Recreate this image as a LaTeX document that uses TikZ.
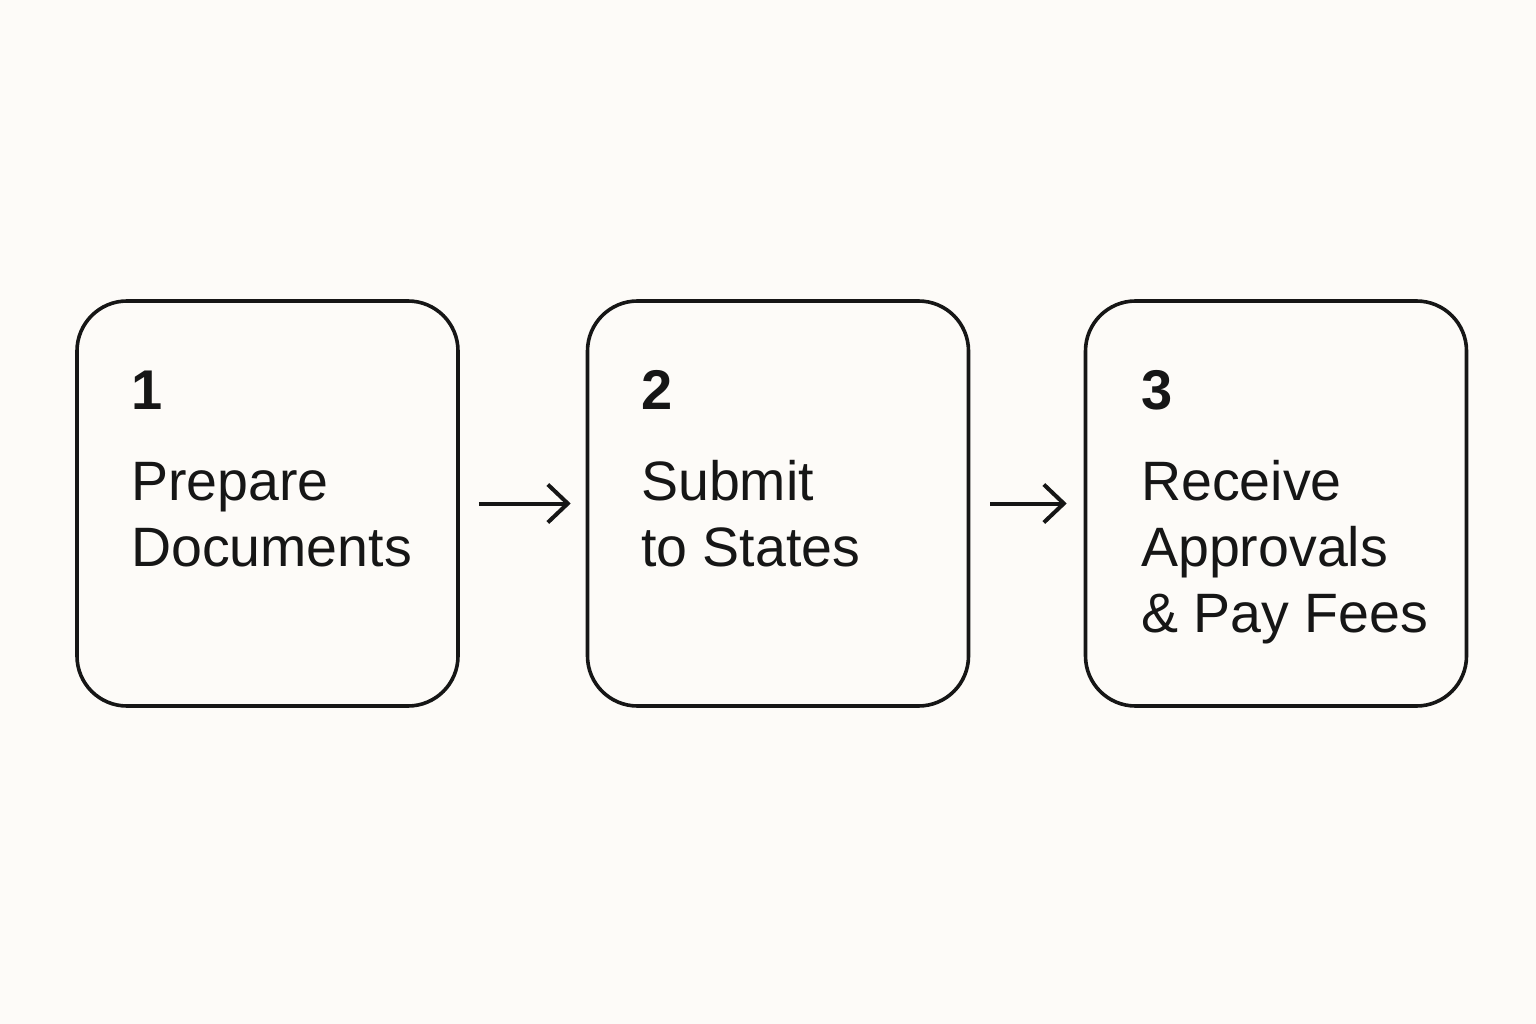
\documentclass[tikz,border=0pt]{standalone}
\usepackage{fontspec}
\setmainfont{Liberation Sans}
\usetikzlibrary{arrows.meta}
\definecolor{bg}{HTML}{FDFBF8}
\definecolor{ink}{HTML}{161616}
\begin{document}
\begin{tikzpicture}[x=1pt,y=-1pt,
  stepbox/.style={draw=ink, line width=3.6pt, rounded corners=50pt, minimum width=381pt, minimum height=405pt, inner sep=0pt},
  numtext/.style={anchor=base west, inner sep=0pt, font=\fontsize{56}{56}\selectfont\bfseries, text=ink},
  labtext/.style={anchor=base west, inner sep=0pt, font=\fontsize{55.5}{66}\selectfont, text=ink},
  conn/.style={draw=ink, line width=4pt, -{Straight Barb[length=20pt,width=38pt,line width=4pt]}}]
\fill[bg] (0,0) rectangle (1536,1024);
\useasboundingbox (0,0) rectangle (1536,1024);
\node[stepbox] (b1) at (267.5,503.5) {};
\node[stepbox] (b2) at (778,503.5) {};
\node[stepbox] (b3) at (1276,503.5) {};
\node[numtext] (n1) at (131,409) {1};
\node[numtext] (n2) at (641,409) {2};
\node[numtext] (n3) at (1141,409) {3};
\node[labtext] (t1a) at (131,500) {Prepare};
\node[labtext] (t1b) at (131,566) {Documents};
\node[labtext] (t2a) at (641,500) {Submit};
\node[labtext] (t2b) at (641,566) {to States};
\node[labtext] (t3a) at (1141,500) {Receive};
\node[labtext] (t3b) at (1141,566) {Approvals};
\node[labtext] (t3c) at (1141,632) {\&~Pay Fees};
\draw[conn, shorten <=19pt, shorten >=15pt] (b1.east) -- (b2.west);
\draw[conn, shorten <=20pt, shorten >=17pt] (b2.east) -- (b3.west);
\end{tikzpicture}
\end{document}
